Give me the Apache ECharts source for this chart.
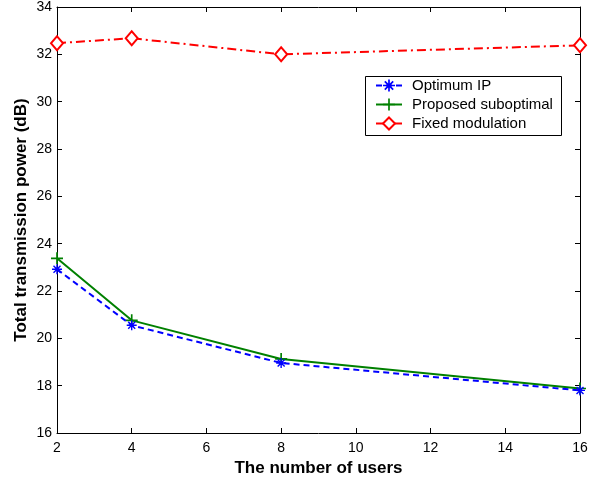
<!DOCTYPE html>
<html><head><meta charset="utf-8">
<script src="https://cdn.jsdelivr.net/npm/echarts@6/dist/echarts.min.js"></script>
<style>html,body{margin:0;padding:0;background:#fff}#c{width:611px;height:482px}</style>
</head><body><div id="c"></div>
<script>
const users = [2, 4, 8, 16];
const optimumIP = [22.92, 20.55, 18.96, 17.8];
const proposedSub = [23.38, 20.76, 19.13, 17.88];
const fixedMod = [32.47, 32.68, 32.0, 32.38];
const seriesNames = ['Optimum IP', 'Proposed suboptimal', 'Fixed modulation'];
const xTicks = {min: 2, max: 16, interval: 2};
const yTicks = {min: 16, max: 34, interval: 2};

const FONT = '"Liberation Sans", Arial, Helvetica, sans-serif';
const plusPath = 'path://M-0.14,-1H0.14V1H-0.14Z M-1,-0.14H1V0.14H-1Z';
const starPath = 'path://M-0.14,-1H0.14V1H-0.14Z M-1,-0.14H1V0.14H-1Z M-0.8,-0.6L-0.6,-0.8L0.8,0.6L0.6,0.8Z M0.6,-0.8L0.8,-0.6L-0.6,0.8L-0.8,0.6Z';
const pair = a => users.map((u, i) => [u, a[i]]);

const chart = echarts.init(document.getElementById('c'), null, {renderer: 'canvas'});
const axisCommon = {
  axisLine: {show: true, onZero: false, lineStyle: {color: '#000', width: 1}},
  axisTick: {show: true, inside: true, length: 5, lineStyle: {color: '#000'}},
  splitLine: {show: false}
};
chart.setOption({
  animation: false,
  backgroundColor: '#fff',
  grid: {left: 57, right: 31, top: 7, bottom: 49, containLabel: false},
  xAxis: [
    Object.assign({type: 'value', position: 'bottom', min: xTicks.min, max: xTicks.max, interval: xTicks.interval,
      axisLabel: {color: '#000', fontSize: 14, fontFamily: FONT, margin: 8},
      name: 'The number of users', nameLocation: 'middle', nameGap: 27,
      nameTextStyle: {color: '#000', fontSize: 17, fontWeight: 'bold', fontFamily: FONT}}, axisCommon),
    Object.assign({type: 'value', position: 'top', min: xTicks.min, max: xTicks.max, interval: xTicks.interval,
      axisLabel: {show: false}}, axisCommon)
  ],
  yAxis: [
    Object.assign({type: 'value', position: 'left', min: yTicks.min, max: yTicks.max, interval: yTicks.interval,
      axisLabel: {color: '#000', fontSize: 14, fontFamily: FONT, margin: 5},
      name: 'Total transmission power (dB)', nameLocation: 'middle', nameGap: 27, nameMoveOverlap: false,
      nameTextStyle: {color: '#000', fontSize: 17, fontWeight: 'bold', fontFamily: FONT}}, axisCommon),
    Object.assign({type: 'value', position: 'right', min: yTicks.min, max: yTicks.max, interval: yTicks.interval,
      axisLabel: {show: false}}, axisCommon)
  ],
  legend: {
    orient: 'vertical', left: 375, top: 78, itemWidth: 26, itemHeight: 15, itemGap: 4,
    padding: 0,
    textStyle: {color: '#000', fontSize: 15, fontFamily: FONT, padding: [0, 0, 0, 5]},
    data: seriesNames
  },
  graphic: [{type: 'rect', shape: {x: 365.5, y: 76.5, width: 196, height: 59},
    style: {fill: 'none', stroke: '#000', lineWidth: 1}, z: 100}],
  series: [
    {name: seriesNames[0], type: 'line', data: pair(optimumIP), symbol: starPath, symbolSize: 10,
      lineStyle: {color: '#0000ff', width: 2, type: [6, 4]}, itemStyle: {color: '#0000ff'}, z: 3},
    {name: seriesNames[1], type: 'line', data: pair(proposedSub), symbol: plusPath, symbolSize: 12,
      lineStyle: {color: '#008000', width: 2}, itemStyle: {color: '#008000'}, z: 2},
    {name: seriesNames[2], type: 'line', data: pair(fixedMod), symbol: 'diamond', symbolSize: [12, 14],
      lineStyle: {color: '#ff0000', width: 2, type: [9, 4, 2, 4]},
      itemStyle: {color: '#fff', borderColor: '#ff0000', borderWidth: 2}, z: 2}
  ]
});
</script></body></html>
